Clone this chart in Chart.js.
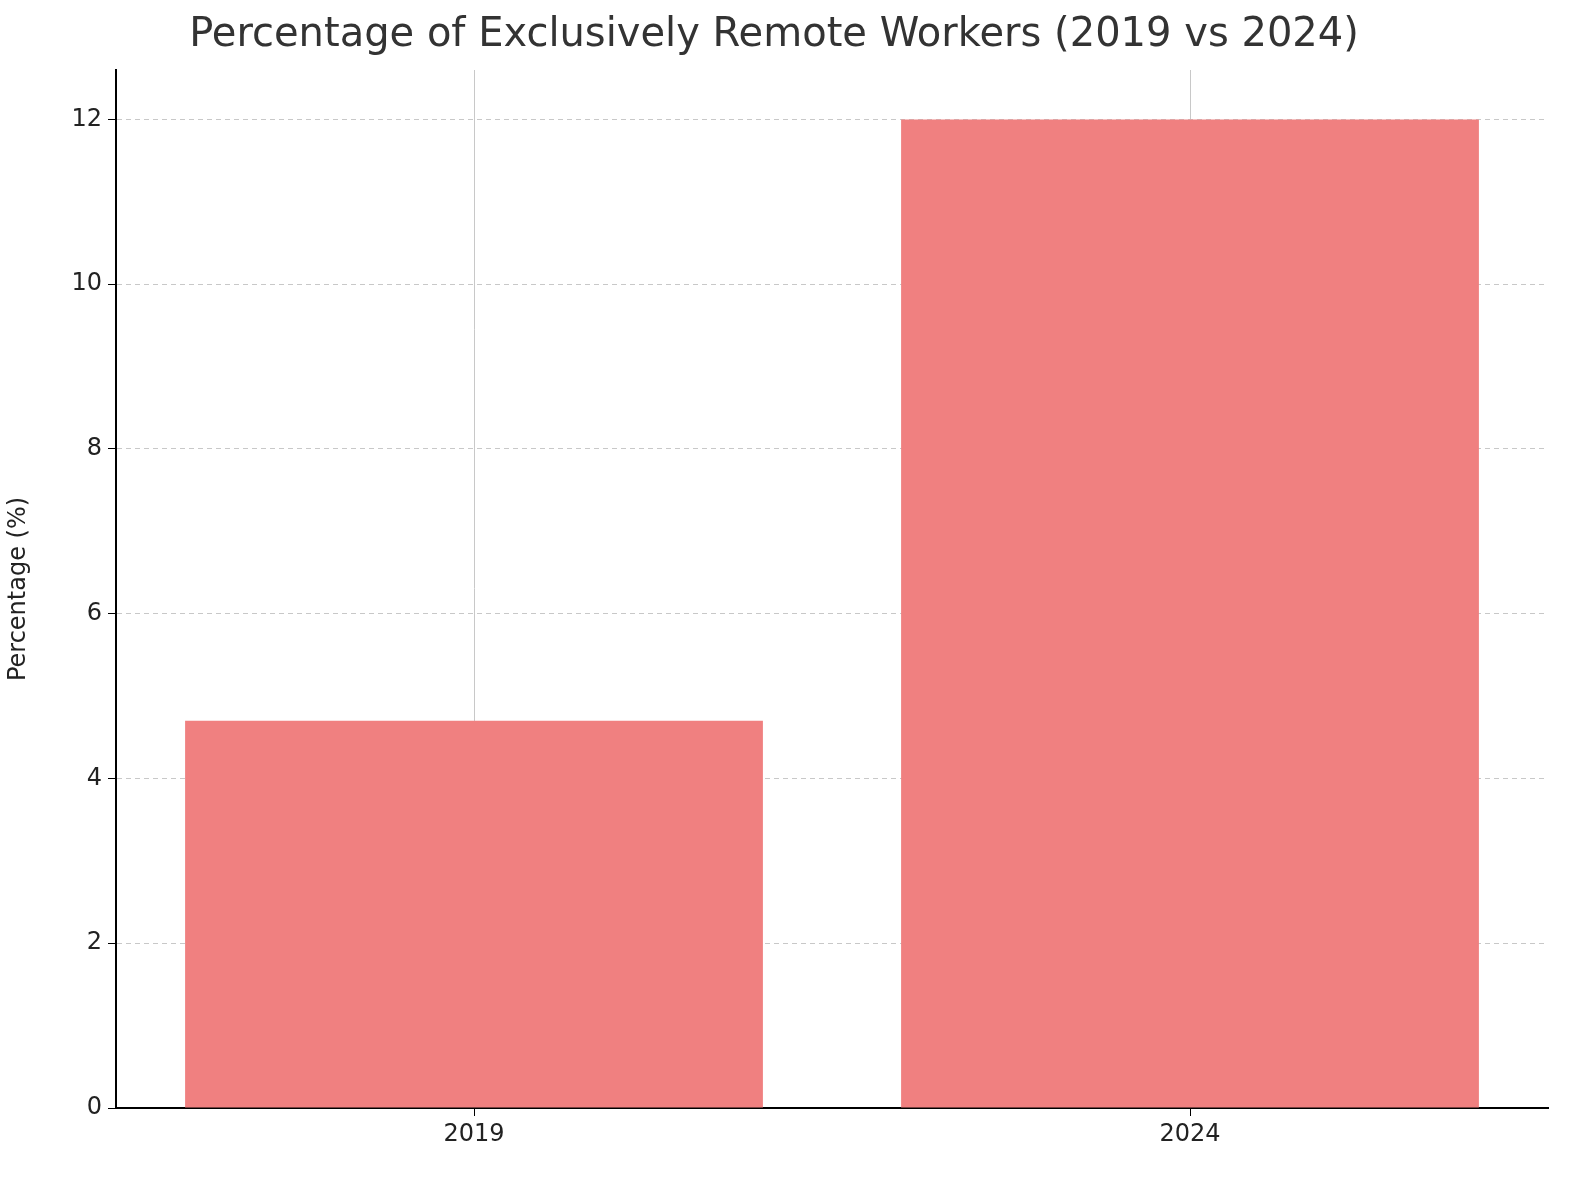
<!DOCTYPE html>
<html><head><meta charset="utf-8">
<script src="https://cdn.jsdelivr.net/npm/chart.js@4"></script>
<style>html,body{margin:0;padding:0;background:#fff}#w{width:1580px;height:1180px}</style>
</head><body><div id="w"><canvas id="c"></canvas></div>
<script>
const categories = ["2019", "2024"];
const values = [4.7, 12];
const yTicks = [0, 2, 4, 6, 8, 10, 12];
const font = "'DejaVu Sans', sans-serif";
new Chart(document.getElementById('c'), {
  type: 'bar',
  data: { labels: categories, datasets: [{ data: values, backgroundColor: '#F08080', barPercentage: 0.807, categoryPercentage: 1 }] },
  options: {
    responsive: true, maintainAspectRatio: false, animation: false,
    layout: { padding: { left: 0, right: 32, top: 0, bottom: 0 } },
    plugins: {
      legend: { display: false }, tooltip: { enabled: false },
      title: { display: true, text: 'Percentage of Exclusively Remote Workers (2019 vs 2024)', color: '#333', font: { family: font, size: 40, weight: 'normal' }, padding: { top: 12, bottom: 10 } }
    },
    scales: {
      x: {
        offset: true,
        grid: { color: '#c8c8c8', borderDash: [5, 4], drawTicks: true, tickLength: 8, tickColor: '#000', offset: false },
        border: { color: '#000', width: 2, dash: [] },
        ticks: { color: '#222', font: { family: font, size: 24 }, padding: 4 },
        afterFit: s => { s.height = 72; }
      },
      y: {
        min: 0, max: 12.6,
        afterBuildTicks: s => { s.ticks = yTicks.map(v => ({ value: v })); },
        grid: { color: '#c8c8c8', tickColor: '#000', tickLength: 8 },
        border: { color: '#000', width: 2, dash: [5, 4] },
        ticks: { color: '#222', font: { family: font, size: 24 }, padding: 6 },
        title: { display: true, text: 'Percentage (%)', color: '#222', font: { family: font, size: 24 }, padding: { bottom: 10 } },
        afterFit: s => { s.width = 116; }
      }
    }
  },
  plugins: [{
    id: 'dash',
    beforeDraw: c => {
      c.options.scales.x.grid.borderDash = [5, 4];
    }
  }]
});
</script></body></html>
